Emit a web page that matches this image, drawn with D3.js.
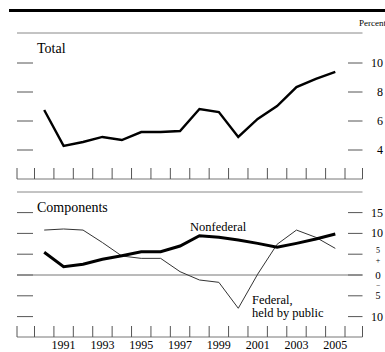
<!DOCTYPE html>
<html>
<head>
<meta charset="utf-8">
<script src="https://cdn.jsdelivr.net/npm/d3@7"></script>
<style>
  html, body { margin: 0; padding: 0; background: #fff; }
  svg { display: block; }
</style>
</head>
<body>
<svg id="chart" width="385" height="352"></svg>
<script>
// Debt growth, percent, 1990-2005
const years = d3.range(1990, 2006);
const total = [6.76, 4.28, 4.55, 4.9, 4.69, 5.24, 5.24, 5.31, 6.83, 6.62, 4.9, 6.14, 7.03, 8.34, 8.9, 9.38];
const nonfederal = [5.45, 2.0, 2.57, 3.77, 4.64, 5.6, 5.6, 6.97, 9.45, 9.05, 8.4, 7.6, 6.65, 7.6, 8.65, 9.86];
const federalPublic = [10.8, 11.06, 10.8, 7.8, 4.57, 4.0, 4.0, 0.8, -1.2, -1.76, -8.0, 0.2, 7.38, 10.8, 9.05, 6.4];
const topTicks = [4, 6, 8, 10];
const bottomTicks = [-10, -5, 0, 5, 10, 15];
const yearLabels = [1991, 1993, 1995, 1997, 1999, 2001, 2003, 2005];

const svg = d3.select("#chart");
const FONT = '"Liberation Serif", "Times New Roman", serif';
const left = 17, right = 362.5;

const x = d3.scaleLinear().domain([1989.5, 2005.5]).range([34.5, 345]);
const yTop = d3.scaleLinear().domain([4, 10]).range([150, 63]);
const yBot = d3.scaleLinear().domain([-10, 15]).range([316.6, 212.6]);

function label(px, py, size, str, anchor) {
  return svg.append("text").attr("x", px).attr("y", py)
    .style("font-family", FONT).attr("font-size", size)
    .attr("text-anchor", anchor || "start").attr("fill", "#000").text(str);
}

// heavy rule and unit label
svg.append("rect").attr("x", 9).attr("y", 9).attr("width", 376).attr("height", 3).attr("fill", "#000");
label(386, 26, 9, "Percent", "end");

// thin grey separators
[33, 192].forEach(y => {
  svg.append("line").attr("x1", left).attr("x2", right).attr("y1", y).attr("y2", y)
    .attr("stroke", "#888").attr("stroke-width", 1);
});

function yTicks(scale, values) {
  values.forEach(v => {
    const y = scale(v);
    svg.append("line").attr("x1", left).attr("x2", 33).attr("y1", y).attr("y2", y)
      .attr("stroke", "#555").attr("stroke-width", 1);
    svg.append("line").attr("x1", 348).attr("x2", right).attr("y1", y).attr("y2", y)
      .attr("stroke", "#555").attr("stroke-width", 1);
  });
}

function xAxis(baseY) {
  svg.append("line").attr("x1", left).attr("x2", right).attr("y1", baseY).attr("y2", baseY)
    .attr("stroke", "#777").attr("stroke-width", 1);
  const bounds = d3.range(1989.5, 2006, 1).map(d => x(d));
  [left, ...bounds, right].forEach(px => {
    svg.append("line").attr("x1", px).attr("x2", px).attr("y1", baseY - 11).attr("y2", baseY)
      .attr("stroke", "#555").attr("stroke-width", 1);
  });
}

// ---- Total panel ----
label(37, 53, 14, "Total");
yTicks(yTop, topTicks);
topTicks.forEach(v => label(383, yTop(v) + 4, 12, v, "end"));
xAxis(179);

const lineTop = d3.line().x((d, i) => x(years[i])).y(d => yTop(d));
svg.append("path").datum(total).attr("d", lineTop)
  .attr("fill", "none").attr("stroke", "#000").attr("stroke-width", 2.4).attr("stroke-linejoin", "miter");

// ---- Components panel ----
label(37, 212, 14, "Components");
yTicks(yBot, bottomTicks);
svg.append("line").attr("x1", left).attr("x2", right).attr("y1", yBot(0)).attr("y2", yBot(0))
  .attr("stroke", "#777").attr("stroke-width", 1);

// right-hand labels, with stacked signs around zero
const lx = 378;
label(383, yBot(15) + 4, 12, "15", "end");
label(383, yBot(10) + 4, 12, "10", "end");
label(lx, yBot(5) - 1, 8, "5", "middle");
label(lx, yBot(5) + 8.5, 8, "+", "middle");
label(lx, yBot(0) + 3.5, 11, "0", "middle");
label(lx, yBot(-5) - 8, 7.5, "\u2212", "middle");
label(lx, yBot(-5) + 3, 10, "5", "middle");
label(383, yBot(-10) + 4, 12, "10", "end");

xAxis(337);

const lineBot = d3.line().x((d, i) => x(years[i])).y(d => yBot(d));
svg.append("path").datum(federalPublic).attr("d", lineBot)
  .attr("fill", "none").attr("stroke", "#333").attr("stroke-width", 1);
svg.append("path").datum(nonfederal).attr("d", lineBot)
  .attr("fill", "none").attr("stroke", "#000").attr("stroke-width", 3);

label(190, 231, 12.5, "Nonfederal");
const fed = label(252, 304, 12.5, "");
fed.append("tspan").attr("x", 252).text("Federal,");
fed.append("tspan").attr("x", 252).attr("dy", 13).text("held by public");

// year labels
yearLabels.forEach(yr => label(x(yr), 349, 12, yr, "middle"));
</script>
</body>
</html>
